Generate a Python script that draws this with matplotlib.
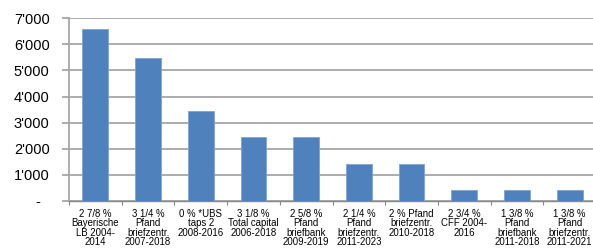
import matplotlib
matplotlib.use("Agg")
import matplotlib.pyplot as plt
import numpy as np

categories = [
    "2 7/8 %\nBayerische\nLB 2004-\n2014",
    "3 1/4 %\nPfand\nbriefzentr.\n2007-2018",
    "0 % *UBS\ntaps 2\n2008-2016",
    "3 1/8 %\nTotal capital\n2006-2018",
    "2 5/8 %\nPfand\nbriefbank\n2009-2019",
    "2 1/4 %\nPfand\nbriefzentr.\n2011-2023",
    "2 % Pfand\nbriefzentr.\n2010-2018",
    "2 3/4 %\nCFF 2004-\n2016",
    "1 3/8 %\nPfand\nbriefbank\n2011-2018",
    "1 3/8 %\nPfand\nbriefzentr.\n2011-2021",
]
values = [6600, 5460, 3440, 2450, 2450, 1430, 1430, 420, 420, 420]
yticks = [0, 1000, 2000, 3000, 4000, 5000, 6000, 7000]
ytick_labels = ["-  ", "1'000", "2'000", "3'000", "4'000", "5'000", "6'000", "7'000"]

plt.rcParams['font.family'] = ['Liberation Sans', 'DejaVu Sans']

fig = plt.figure(figsize=(5.93, 2.50), dpi=100)
ax = fig.add_axes([69/593, 49/250, 527/593, (201-18.2)/250])

x = np.arange(len(categories))
ax.bar(x, values, width=0.49, color="#4F81BD", edgecolor="#7FA3D0", linewidth=0.6, zorder=3)

ax.set_xlim(-0.5, len(categories) - 0.5)
ax.set_ylim(0, 7000)
ax.set_yticks(yticks)
ax.set_yticklabels(ytick_labels, fontsize=10.5)
ax.set_xticks(x)
ax.set_xticklabels(categories, fontsize=6.9, linespacing=0.95)
ax.set_xticks(np.arange(-0.5, len(categories), 1), minor=True)
ax.tick_params(axis='x', which='major', length=0, pad=5.5)
ax.tick_params(axis='x', which='minor', length=3, color="#888888", width=0.8)
ax.tick_params(axis='y', length=5, color="#A6A6A6", width=1.3, pad=9)

ax.yaxis.grid(True, color="#A6A6A6", linewidth=1.3, zorder=0)
ax.set_axisbelow(True)
for s in ['top', 'right']:
    ax.spines[s].set_visible(False)
ax.spines['left'].set_color("#A6A6A6")
ax.spines['left'].set_linewidth(1.3)
ax.spines['bottom'].set_color("#888888")
ax.spines['bottom'].set_linewidth(1.0)

fig.savefig("out.png", dpi=100)
